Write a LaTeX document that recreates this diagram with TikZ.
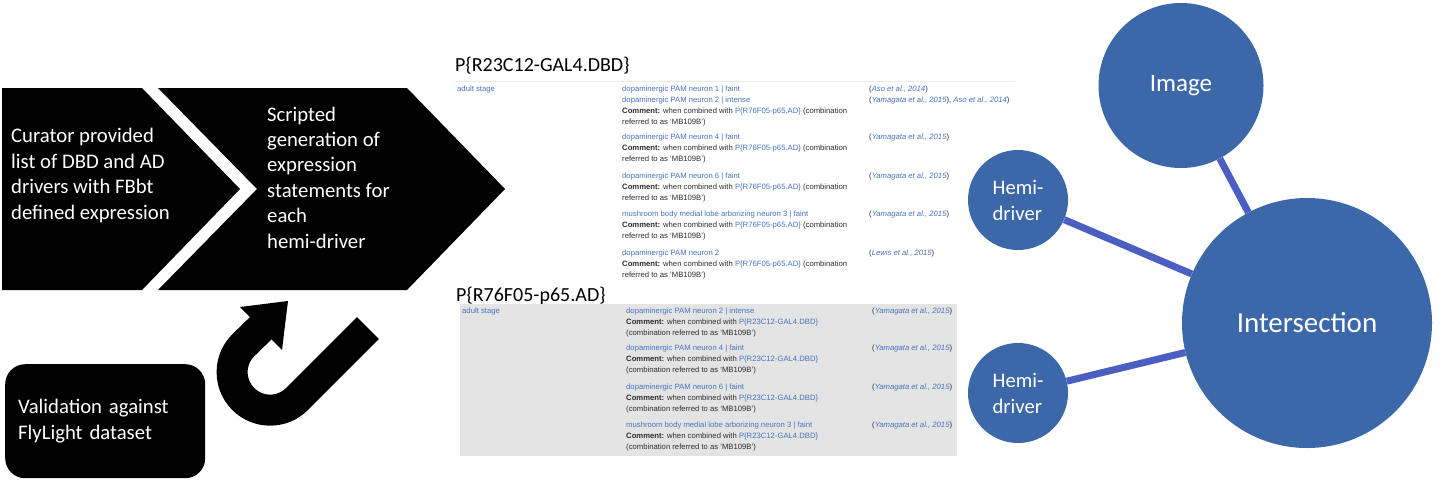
\documentclass[tikz,border=0pt]{standalone}
\usepackage{fontspec}
\setmainfont{Carlito}
\newfontfamily\shotfont{Liberation Sans}

\definecolor{bubble}{RGB}{60,104,170}
\definecolor{spoke}{RGB}{75,95,195}
\definecolor{fblink}{RGB}{70,115,190}
\definecolor{fbtext}{RGB}{45,45,45}
\definecolor{fbgrey}{RGB}{228,228,228}

% FlyBase screenshot helpers
\newcommand{\fbl}[1]{\textcolor{fblink}{#1}}
\newcommand{\fbref}[1]{(\textcolor{fblink}{\itshape #1})}
\newcommand{\cmtA}{\textbf{Comment:} when combined with \fbl{P\{R76F05-p65.AD\}} (combination\\referred to as ‘MB109B’)}
\newcommand{\cmtB}{\textbf{Comment:} when combined with \fbl{P\{R23C12-GAL4.DBD\}}\\(combination referred to as ‘MB109B’)}

\tikzset{
	steptext/.style={text=white, font=\fontsize{20.7}{25.4}\selectfont, align=left, inner sep=0pt, anchor=base west},
	shot/.style={font=\shotfont\fontsize{7.7}{11}\selectfont, text=fbtext, align=left, inner sep=0pt, anchor=base west},
	shottitle/.style={font=\fontsize{20}{24}\selectfont, inner sep=0pt, anchor=base west},
	bubble/.style={circle, fill=bubble, text=white, inner sep=0pt},
	spoke/.style={draw=spoke, line width=7pt},
}

\begin{document}
\begin{tikzpicture}[x=1pt, y=1pt]
	\useasboundingbox (0,0) rectangle (1442,-485);

	% workflow (multi-line nodes sit on their last baseline)
	\fill[black] (2,-88) -- (142,-88) -- (240,-189) -- (142,-290) -- (2,-290) -- cycle;
	\fill[black] (158,-88) -- (407,-88) -- (505,-189) -- (407,-290) -- (158,-290) -- (257,-189) -- cycle;
	\node[steptext] (curate) at (11,-219) {Curator provided\\list of DBD and AD\\drivers with FBbt\\defined expression};
	\node[steptext] (script) at (267,-248) {Scripted\\generation of\\expression\\statements for\\each\\hemi-driver};

	\node[fill=black, text=white, rounded corners=20pt, minimum height=114pt, text width=174pt, inner xsep=13pt, align=left, anchor=north west, font=\fontsize{20.7}{25.4}\selectfont] (valid) at (5,-364) {Validation against\\FlyLight dataset};

	% u-turn arrow
	\draw[black, line width=31pt] (368,-328) -- (297,-399) arc[start angle=-45, end angle=-225, radius=38pt] -- (261,-328);
	\fill[black] (240,-307) -- (288,-301) -- (282,-350) -- cycle;

	% DBD screenshot
	\node[shottitle] (titleA) at (455,-71) {P\{R23C12-GAL4.DBD\}};
	\draw[black!8, line width=1pt] (455,-81) -- (1015,-81);
	\node[shot] (stageA) at (457,-91) {\fbl{adult stage}};
	\node[shot] (exprA1) at (622,-91) {\fbl{dopaminergic PAM neuron 1 | faint}};
	\node[shot] (refA1) at (869,-91) {\fbref{Aso et al., 2014}};
	\node[shot] (exprA2) at (622,-124) {\fbl{dopaminergic PAM neuron 2 | intense}\\\cmtA};
	\node[shot] (refA2) at (869,-102) {\fbref{Yamagata et al., 2015}, \fbl{\itshape Aso et al., 2014})};
	\node[shot] (exprA3) at (622,-161) {\fbl{dopaminergic PAM neuron 4 | faint}\\\cmtA};
	\node[shot] (refA3) at (869,-139) {\fbref{Yamagata et al., 2015}};
	\node[shot] (exprA4) at (622,-200) {\fbl{dopaminergic PAM neuron 6 | faint}\\\cmtA};
	\node[shot] (refA4) at (869,-178) {\fbref{Yamagata et al., 2015}};
	\node[shot] (exprA5) at (622,-238) {\fbl{mushroom body medial lobe arborizing neuron 3 | faint}\\\cmtA};
	\node[shot] (refA5) at (869,-216) {\fbref{Yamagata et al., 2015}};
	\node[shot] (exprA6) at (622,-277) {\fbl{dopaminergic PAM neuron 2}\\\cmtA};
	\node[shot] (refA6) at (869,-255) {\fbref{Lewis et al., 2015}};

	% AD screenshot
	\node[shottitle] (titleB) at (456,-301) {P\{R76F05-p65.AD\}};
	\fill[fbgrey] (460,-304) rectangle (957,-456);
	\node[shot] (stageB) at (462,-313) {\fbl{adult stage}};
	\node[shot] (exprB1) at (626,-335) {\fbl{dopaminergic PAM neuron 2 | intense}\\\cmtB};
	\node[shot] (refB1) at (872,-313) {\fbref{Yamagata et al., 2015}};
	\node[shot] (exprB2) at (626,-372) {\fbl{dopaminergic PAM neuron 4 | faint}\\\cmtB};
	\node[shot] (refB2) at (872,-350) {\fbref{Yamagata et al., 2015}};
	\node[shot] (exprB3) at (626,-411) {\fbl{dopaminergic PAM neuron 6 | faint}\\\cmtB};
	\node[shot] (refB3) at (872,-389) {\fbref{Yamagata et al., 2015}};
	\node[shot] (exprB4) at (626,-449) {\fbl{mushroom body medial lobe arborizing neuron 3 | faint}\\\cmtB};
	\node[shot] (refB4) at (872,-427) {\fbref{Yamagata et al., 2015}};

	% bubbles
	\node[bubble, minimum size=165pt, font=\fontsize{25}{30}\selectfont] (image) at (1181,-85.5) {Image};
	\node[bubble, minimum size=100pt, font=\fontsize{20.7}{26}\selectfont, align=left] (hemiA) at (1018,-200) {Hemi-\\driver};
	\node[bubble, minimum size=100pt, font=\fontsize{20.7}{26}\selectfont, align=left] (hemiB) at (1018,-393) {Hemi-\\driver};
	\node[bubble, minimum size=250pt, font=\fontsize{29}{34}\selectfont] (inter) at (1307,-323) {Intersection};
	\draw[spoke] (image) -- (inter);
	\draw[spoke] (hemiA) -- (inter);
	\draw[spoke] (hemiB) -- (inter);
\end{tikzpicture}
\end{document}
